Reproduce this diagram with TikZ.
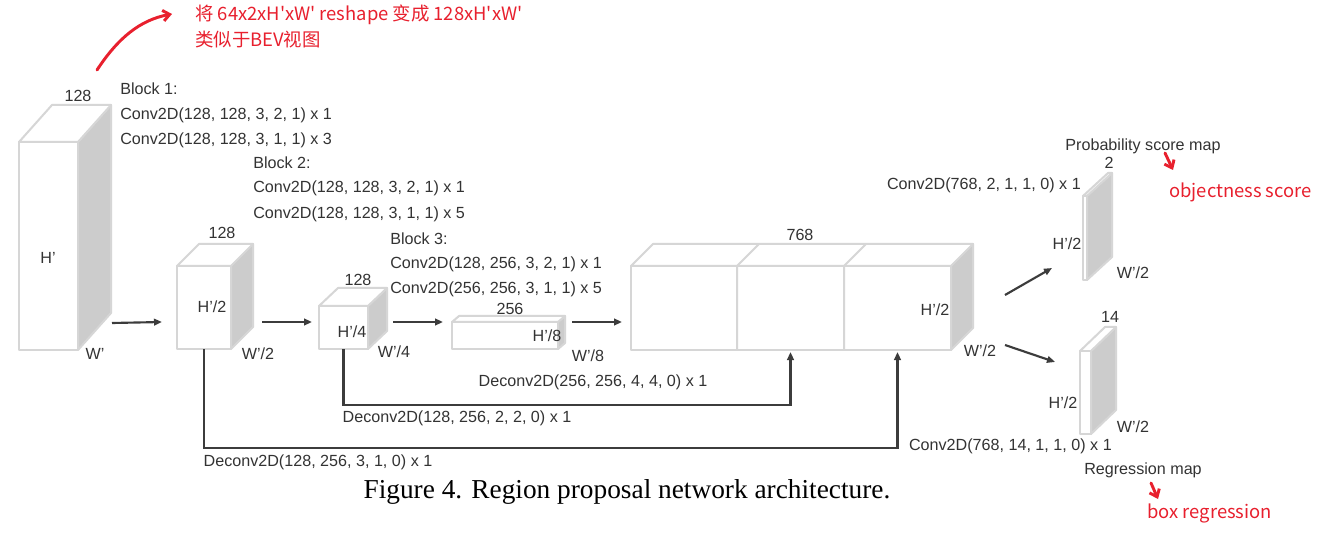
\documentclass[tikz,border=0pt]{standalone}
\usepackage{fontspec}
\setmainfont{Liberation Sans}
\newfontfamily\capfont{Liberation Serif}
\newfontfamily\cjk{Noto Sans CJK SC}
\usetikzlibrary{calc,arrows.meta}

\definecolor{txtgray}{HTML}{333333}
\definecolor{edgegray}{HTML}{D6D6D6}
\definecolor{sidegray}{HTML}{CCCCCC}
\definecolor{flowgray}{HTML}{3C3C3C}
\definecolor{notered}{HTML}{E8202E}

\tikzset{
  frontface/.style={draw=edgegray,line width=1.5pt,fill=white,line join=round},
  topface/.style={draw=edgegray,line width=1.5pt,fill=white,line join=round},
  sideface/.style={draw=edgegray,line width=1.5pt,fill=sidegray,line join=round},
  lbl/.style={font=\fontsize{12.1}{14}\selectfont,text=txtgray,inner sep=0pt},
  flow/.style={draw=flowgray,line width=1.6pt,-{Triangle[length=6pt,width=5pt]}},
  note/.style={font=\cjk\fontsize{13.8}{17}\selectfont,text=notered,inner sep=0pt,anchor=west},
  notearrow/.style={draw=notered,line width=2.2pt,line cap=round,-{Straight Barb[length=5pt,width=8pt]}}
}

% cuboid: name, left, top, width, height, depth x, depth y
\newcommand{\cuboid}[7]{%
  \coordinate (#1-a) at (#2,#3);
  \coordinate (#1-b) at (#2+#4,#3);
  \coordinate (#1-c) at (#2+#4,#3+#5);
  \coordinate (#1-d) at (#2,#3+#5);
  \draw[sideface] (#1-b) -- ++(#6,-#7) -- ++(0,#5) -- (#1-c) -- cycle;
  \draw[topface] (#1-a) -- ++(#6,-#7) -- ++(#4,0) -- (#1-b) -- cycle;
  \draw[frontface] (#1-a) rectangle (#1-c);
}

\begin{document}
\begin{tikzpicture}[x=0.75pt,y=-0.75pt]
  \useasboundingbox[fill=white] (0,0) rectangle (1323,534);

  % feature maps
  \cuboid{b1}{19}{142}{59}{208}{33}{37}
  \cuboid{b2}{177}{266}{54}{83}{22}{22}
  \cuboid{b3}{319}{306}{49}{43}{19}{18}
  \cuboid{b4}{452}{322}{106}{27}{7}{6}
  \cuboid{b5}{631}{266}{320}{84}{22}{22}
  \cuboid{b6}{1083}{196}{4}{84}{25}{23}
  \cuboid{b7}{1080}{351}{11}{83}{25}{24}

  % concatenation dividers
  \coordinate (s1) at (737,266);
  \coordinate (s2) at (844,266);
  \draw[edgegray,line width=1.5pt] (s1) -- ++(0,84) (s1) -- ++(22,-22);
  \draw[edgegray,line width=1.5pt] (s2) -- ++(0,84) (s2) -- ++(22,-22);

  % sizes
  \node[lbl] (c1) at (78,96) {128};
  \node[lbl] (h1) at (48,258) {H’};
  \node[lbl] (w1) at (95,354) {W’};
  \node[lbl] (c2) at (222,233) {128};
  \node[lbl] (h2) at (212,307) {H’/2};
  \node[lbl] (w2) at (258,354) {W’/2};
  \node[lbl] (c3) at (358,280) {128};
  \node[lbl] (h3) at (352,332) {H’/4};
  \node[lbl] (w3) at (394,352) {W’/4};
  \node[lbl] (c4) at (510,309) {256};
  \node[lbl] (h4) at (547,336) {H’/8};
  \node[lbl] (w4) at (588,356) {W’/8};
  \node[lbl] (c5) at (800,235) {768};
  \node[lbl] (h5) at (935,310) {H’/2};
  \node[lbl] (w5) at (980,351) {W’/2};
  \node[lbl] (c6) at (1109,163) {2};
  \node[lbl] (h6) at (1067,244) {H’/2};
  \node[lbl] (w6) at (1133,273) {W’/2};
  \node[lbl] (c7) at (1110,317) {14};
  \node[lbl] (h7) at (1063,403) {H’/2};
  \node[lbl] (w7) at (1133,427) {W’/2};

  % blocks
  \node[lbl,anchor=west] (k1) at (120,89) {Block 1:};
  \node[lbl,anchor=west] (k1a) at (120,115) {Conv2D(128, 128, 3, 2, 1) x 1};
  \node[lbl,anchor=west] (k1b) at (120,140) {Conv2D(128, 128, 3, 1, 1) x 3};
  \node[lbl,anchor=west] (k2) at (253,163) {Block 2:};
  \node[lbl,anchor=west] (k2a) at (253,188) {Conv2D(128, 128, 3, 2, 1) x 1};
  \node[lbl,anchor=west] (k2b) at (253,214) {Conv2D(128, 128, 3, 1, 1) x 5};
  \node[lbl,anchor=west] (k3) at (390,239) {Block 3:};
  \node[lbl,anchor=west] (k3a) at (390,264) {Conv2D(128, 256, 3, 2, 1) x 1};
  \node[lbl,anchor=west] (k3b) at (390,289) {Conv2D(256, 256, 3, 1, 1) x 5};

  % forward arrows
  \draw[flow] ($(b1-c)+(34,-27)$) -- ($(b2-d)+(-15,-27)$);
  \draw[flow] ($(b2-c)+(31,-27)$) -- ($(b3-d)+(-7,-27)$);
  \draw[flow] ($(b3-c)+(25,-27)$) -- ($(b4-d)+(-9,-27)$);
  \draw[flow] ($(b4-c)+(14,-27)$) -- ($(b5-d)+(-9,-28)$);
  \draw[flow] ($(b5-c)+(54,-55)$) -- ($(b6-d)+(-31,-12)$);
  \draw[flow] ($(b5-c)+(54,-5)$) -- ($(b7-a)+(-25,11)$);

  % upsampling branches
  \draw[flow] ($(b3-d)!0.5!(b3-c)$) -- ++(0,56) -| ($(s1)!0.5!(s2)+(0,86)$);
  \draw[flow] ($(b2-d)!0.5!(b2-c)$) -- ++(0,99) -| ($(s2)!0.5!(b5-b)+(0,86)$);
  \node[lbl] (d1) at (593,382) {Deconv2D(256, 256, 4, 4, 0) x 1};
  \node[lbl] (d2) at (457,418) {Deconv2D(128, 256, 2, 2, 0) x 1};
  \node[lbl] (d3) at (318,462) {Deconv2D(128, 256, 3, 1, 0) x 1};

  % heads
  \node[lbl,anchor=east] (p1) at (1081,185) {Conv2D(768, 2, 1, 1, 0) x 1};
  \node[lbl,anchor=east] (p2) at (1112,446) {Conv2D(768, 14, 1, 1, 0) x 1};
  \node[lbl] (m1) at (1143,146) {Probability score map};
  \node[lbl] (m2) at (1143,470) {Regression map};

  % notes
  \node[note] (n1) at (195,15) {将 64x2xH'xW' reshape 变成 128xH'xW'};
  \node[note] (n2) at (195,40) {类似于BEV视图};
  \node[note] (n3) at (1169,192) {objectness score};
  \node[note] (n4) at (1147,513) {box regression};
  \coordinate (r0) at (97,70);
  \draw[notearrow] (r0) .. controls (118,38) and (140,20) .. (172,14);
  \draw[notearrow] (1165,153) -- (1173,170);
  \draw[notearrow] (1151,483) -- (1158,499);

  % caption
  \node[font=\capfont\fontsize{20.5}{24}\selectfont,inner sep=0pt] (cap) at (627,492) {Figure 4. Region proposal network architecture.};
\end{tikzpicture}
\end{document}
